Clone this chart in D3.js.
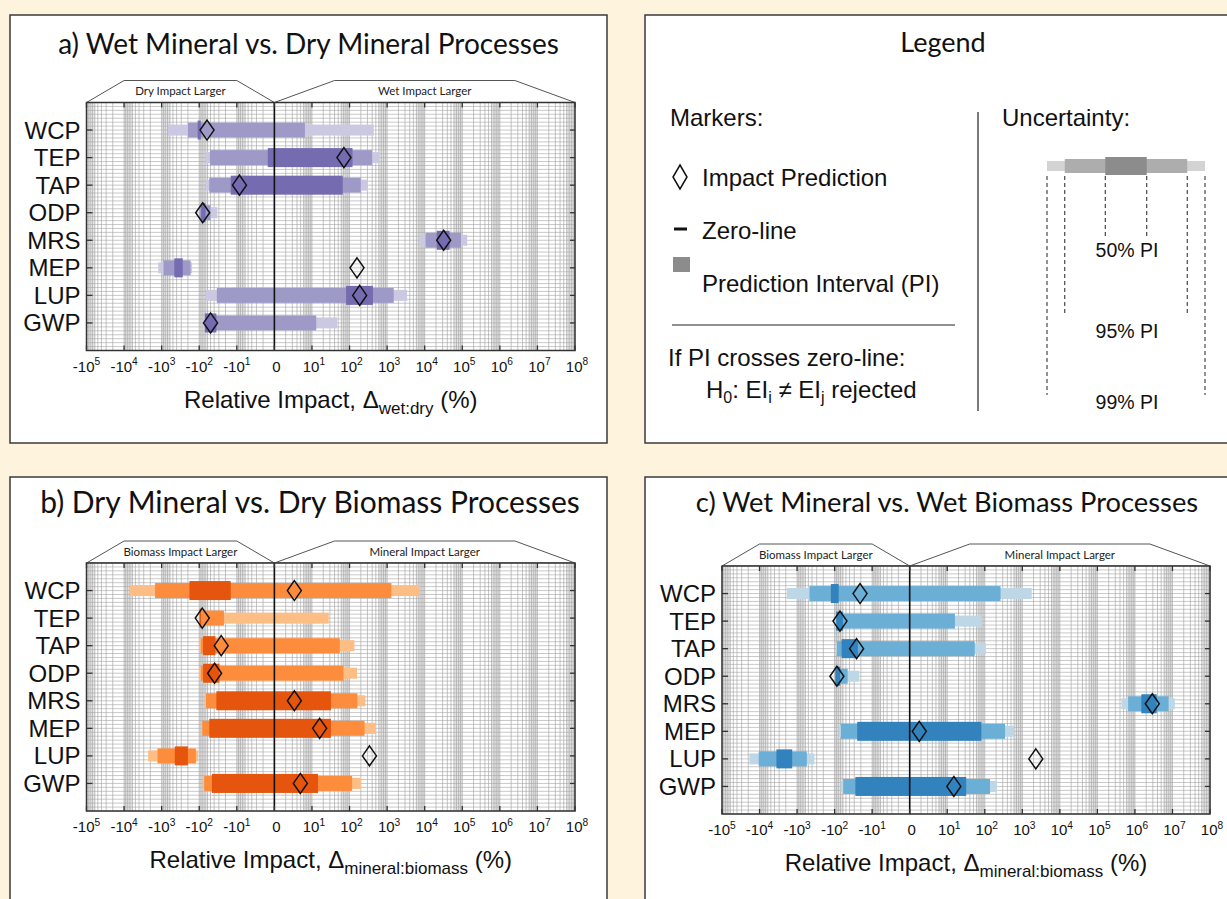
<!DOCTYPE html>
<html>
<head>
<meta charset="utf-8">
<script src="https://cdn.jsdelivr.net/npm/d3@7"></script>
<style>
  body { margin: 0; background: #fef4de; }
  svg { display: block; }
</style>
</head>
<body>
<svg id="fig" width="1227" height="899"></svg>
<script>
// ---- data (relative impact, %) ----
const categories = ["WCP", "TEP", "TAP", "ODP", "MRS", "MEP", "LUP", "GWP"];
const decadeTicks = [-1e5, -1e4, -1e3, -1e2, -1e1, 0, 1e1, 1e2, 1e3, 1e4, 1e5, 1e6, 1e7, 1e8];

// a) wet mineral vs. dry mineral
const wetDryPred = [-62, 71, -8.5, -81, 32000, 158, 186, -50];
const wetDryPI50 = [[-110, -91], [-1.5, 120], [-14.5, 66], [-89, -68], [21000, 46000], [-460, -275], [81, 420], [-71, -35]];
const wetDryPI95 = [[-200, 6.5], [-52, 400], [-54, 200], [-98, -50], [10500, 93000], [-890, -170], [-34, 1500], [-69, 13]];
const wetDryPI99 = [[-680, 440], [-66, 630], [-66, 310], [-98, -33], [7200, 135000], [-1230, -155], [-66, 3400], [-81, 47]];

// b) dry mineral vs. dry biomass
const dryPred = [3.4, -83, -26, -39, 3.4, 16, 339, 4.9];
const dryPI50 = [[-182, -14.5], [-98, -90], [-79, -37], [-79, -29], [-35, 32], [-54, 32], [-447, -200], [-46, 14.5]];
const dryPI95 = [[-1500, 1300], [-98, -22], [-91, 55], [-91, 69], [-66, 162], [-83, 251], [-1290, -123], [-74, 117]];
const dryPI99 = [[-7100, 7400], [-98, 28], [-98, 135], [-98, 158], [-72, 263], [-87, 490], [-2290, -107], [-81, 200]];

// c) wet mineral vs. wet biomass
const wetPred = [-21, -72, -26, -87, 2.9e6, 1.8, 2290, 15];
const wetPI50 = [[-126, -78], [-91, -60], [-65, -24], [-95, -71], [1.48e6, 3.8e6], [-25, 81], [-3550, -1350], [-28, 32]];
const wetPI95 = [[-468, 263], [-87, 16], [-87, 54], [-98, -45], [6.6e5, 7.9e6], [-68, 347], [-10500, -550], [-59, 138]];
const wetPI99 = [[-1860, 1780], [-91, 83], [-91, 107], [-98, -22], [4.37e5, 1.15e7], [-78, 603], [-18600, -347], [-69, 209]];

// legend
const legendPI = ["50% PI", "95% PI", "99% PI"];

// ---- drawing ----
const SANS = "'Liberation Sans', Arial, sans-serif";
const TITLE = "Lato, 'Open Sans', sans-serif";
const svg = d3.select("#fig");

// signed log10 exponent; |v| <= 1 collapses onto the zero line
function expo(v) {
  if (v === 0) return 0;
  return Math.sign(v) * Math.max(0, Math.log10(Math.abs(v)));
}

function addPowerLabel(sel, v, size) {
  if (v === 0) { sel.text("0"); return; }
  const e = Math.round(Math.log10(Math.abs(v)));
  sel.append("tspan").text((v < 0 ? "-" : "") + "10");
  sel.append("tspan").attr("dy", -size * 0.42).attr("font-size", size * 0.68).text(e);
}

function drawPanel(cfg) {
  const g = svg.append("g");
  const f = cfg.frame, p = cfg.plot;

  g.append("rect").attr("x", f.x).attr("y", f.y).attr("width", f.w).attr("height", f.h)
    .attr("fill", "#fff").attr("stroke", "#3a3a3a").attr("stroke-width", 1.5);

  g.append("text").attr("x", cfg.titleX).attr("y", cfg.titleY).attr("text-anchor", "middle")
    .attr("font-family", TITLE).attr("font-size", cfg.titleSize).attr("fill", "#111").text(cfg.title);

  const x = d3.scaleLinear().domain([-5, 8]).range([p.left, p.right]);
  const X = v => x(expo(v));
  const y = d3.scalePoint().domain(categories).range([p.top, p.bottom]).padding(1);

  // header trapezoids
  const hTop = p.top - 22;
  const heads = [
    { pts: [-5, -4, -1, 0], label: cfg.leftHeader, mid: -2.5 },
    { pts: [0, 1.6, 6.4, 8], label: cfg.rightHeader, mid: 4 }
  ];
  heads.forEach(h => {
    const d = `M${x(h.pts[0])},${p.top}L${x(h.pts[1])},${hTop}L${x(h.pts[2])},${hTop}L${x(h.pts[3])},${p.top}Z`;
    g.append("path").attr("d", d).attr("fill", "#fff").attr("stroke", "#555").attr("stroke-width", 1);
    g.append("text").attr("x", x(h.mid)).attr("y", hTop + 14.5).attr("text-anchor", "middle")
      .attr("font-family", TITLE).attr("font-size", 11.5).attr("fill", "#222").text(h.label);
  });

  // plot background
  g.append("rect").attr("x", p.left).attr("y", p.top).attr("width", p.right - p.left)
    .attr("height", p.bottom - p.top).attr("fill", "#fff");

  // shaded bands where the minor grid gets dense
  const bands = [];
  for (let k = 1; k <= 8; k++) bands.push([0.6 * Math.pow(10, k), Math.pow(10, k)]);
  for (let k = 1; k <= 5; k++) bands.push([-Math.pow(10, k), -0.6 * Math.pow(10, k)]);
  g.append("g").selectAll("rect").data(bands).join("rect")
    .attr("x", d => X(d[0])).attr("width", d => X(d[1]) - X(d[0]))
    .attr("y", p.top).attr("height", p.bottom - p.top).attr("fill", "#e6e6e6");

  // vertical grid: 1..9 x 10^j on both sides
  const gridV = [];
  for (let j = 0; j < 8; j++) for (let m = 1; m <= 9; m++) gridV.push(m * Math.pow(10, j));
  for (let j = 0; j < 5; j++) for (let m = 1; m <= 9; m++) gridV.push(-m * Math.pow(10, j));
  gridV.push(1e8, -1e5);
  g.append("g").selectAll("line").data(gridV).join("line")
    .attr("x1", d => X(d)).attr("x2", d => X(d)).attr("y1", p.top).attr("y2", p.bottom)
    .attr("stroke", "#9c9c9c").attr("stroke-width", 0.6);

  // horizontal grid
  const yl = d3.scaleLinear().domain([0, categories.length + 1]).range([p.top, p.bottom]);
  const gridH = d3.range(0, (categories.length + 1) * 7 + 1).map(i => i / 7);
  g.append("g").selectAll("line").data(gridH).join("line")
    .attr("x1", p.left).attr("x2", p.right).attr("y1", d => yl(d)).attr("y2", d => yl(d))
    .attr("stroke", "#a4a4a4").attr("stroke-width", 0.6);

  // prediction interval bars
  const layers = [
    { data: cfg.pi99, h: 11, color: cfg.colors[0] },
    { data: cfg.pi95, h: 15, color: cfg.colors[1] },
    { data: cfg.pi50, h: 19, color: cfg.colors[2] }
  ];
  layers.forEach(L => {
    g.append("g").selectAll("rect").data(L.data).join("rect")
      .attr("x", d => X(d[0])).attr("width", d => Math.max(1, X(d[1]) - X(d[0])))
      .attr("y", (d, i) => y(categories[i]) - L.h / 2).attr("height", L.h)
      .attr("fill", L.color);
  });

  // zero line
  g.append("line").attr("x1", x(0)).attr("x2", x(0)).attr("y1", p.top).attr("y2", p.bottom)
    .attr("stroke", "#111").attr("stroke-width", 1.6);

  // predictions
  g.append("g").selectAll("path").data(cfg.pred).join("path")
    .attr("d", (d, i) => {
      const cx = X(d), cy = y(categories[i]);
      return `M${cx},${cy - 10}L${cx + 7},${cy}L${cx},${cy + 10}L${cx - 7},${cy}Z`;
    })
    .attr("fill", "none").attr("stroke", "#111").attr("stroke-width", 1.5);

  // frame + ticks
  g.append("rect").attr("x", p.left).attr("y", p.top).attr("width", p.right - p.left)
    .attr("height", p.bottom - p.top).attr("fill", "none").attr("stroke", "#333").attr("stroke-width", 1.5);
  const tk = g.append("g").attr("stroke", "#333").attr("stroke-width", 1.3);
  decadeTicks.forEach(v => {
    tk.append("line").attr("x1", X(v)).attr("x2", X(v)).attr("y1", p.top).attr("y2", p.top + 5);
    tk.append("line").attr("x1", X(v)).attr("x2", X(v)).attr("y1", p.bottom).attr("y2", p.bottom - 5);
  });
  categories.forEach(c => {
    tk.append("line").attr("x1", p.left).attr("x2", p.left + 6).attr("y1", y(c)).attr("y2", y(c));
    tk.append("line").attr("x1", p.right).attr("x2", p.right - 5).attr("y1", y(c)).attr("y2", y(c));
  });

  // category labels
  g.append("g").selectAll("text").data(categories).join("text")
    .attr("x", p.left - 6).attr("y", d => y(d) + 8.5).attr("text-anchor", "end")
    .attr("font-family", SANS).attr("font-size", 24).attr("fill", "#111").text(d => d);

  // x tick labels
  g.append("g").selectAll("text").data(decadeTicks).join("text")
    .attr("x", d => X(d) + (d < 0 ? 0 : 2)).attr("y", p.bottom + 21).attr("text-anchor", "middle")
    .attr("font-family", SANS).attr("font-size", 15).attr("fill", "#111")
    .each(function (d) { addPowerLabel(d3.select(this), d, 15); });

  // axis title
  const t = g.append("text").attr("x", (p.left + p.right) / 2).attr("y", p.bottom + 57)
    .attr("text-anchor", "middle").attr("font-family", SANS).attr("font-size", 24).attr("fill", "#111");
  t.append("tspan").text("Relative Impact, \u0394");
  t.append("tspan").attr("dy", 6).attr("font-size", 17).text(cfg.sub);
  t.append("tspan").attr("dy", -6).text(" (%)");
}

drawPanel({
  frame: { x: 10, y: 15, w: 597, h: 428 },
  plot: { left: 86.5, right: 575, top: 102.5, bottom: 350.5 },
  title: "a) Wet Mineral vs. Dry Mineral Processes", titleX: 308.5, titleY: 54, titleSize: 28,
  leftHeader: "Dry Impact Larger", rightHeader: "Wet Impact Larger", sub: "wet:dry",
  pred: wetDryPred, pi50: wetDryPI50, pi95: wetDryPI95, pi99: wetDryPI99,
  colors: ["#cbc9e2", "#9e9ac8", "#756bb1"]
});
drawPanel({
  frame: { x: 10, y: 477, w: 597, h: 440 },
  plot: { left: 86.5, right: 575, top: 563, bottom: 811 },
  title: "b) Dry Mineral vs. Dry Biomass Processes", titleX: 310, titleY: 513, titleSize: 30,
  leftHeader: "Biomass Impact Larger", rightHeader: "Mineral Impact Larger", sub: "mineral:biomass",
  pred: dryPred, pi50: dryPI50, pi95: dryPI95, pi99: dryPI99,
  colors: ["#fdbe85", "#fd8d3c", "#e6550d"]
});
drawPanel({
  frame: { x: 645, y: 477, w: 620, h: 440 },
  plot: { left: 722, right: 1210, top: 566, bottom: 814 },
  title: "c) Wet Mineral vs. Wet Biomass Processes", titleX: 947, titleY: 512, titleSize: 27.3,
  leftHeader: "Biomass Impact Larger", rightHeader: "Mineral Impact Larger", sub: "mineral:biomass",
  pred: wetPred, pi50: wetPI50, pi95: wetPI95, pi99: wetPI99,
  colors: ["#bdd7e7", "#6baed6", "#3182bd"]
});

// ---- legend ----
const lg = svg.append("g");
lg.append("rect").attr("x", 645).attr("y", 15).attr("width", 620).attr("height", 428)
  .attr("fill", "#fff").attr("stroke", "#3a3a3a").attr("stroke-width", 1.5);
lg.append("text").attr("x", 943).attr("y", 52).attr("text-anchor", "middle")
  .attr("font-family", TITLE).attr("font-size", 27).attr("fill", "#111").text("Legend");

const lt = (x, y, s, size) => lg.append("text").attr("x", x).attr("y", y)
  .attr("font-family", SANS).attr("font-size", size || 24).attr("fill", "#111").text(s);
lt(670, 126, "Markers:");
lg.append("path").attr("d", "M680,165L687,177L680,189L673,177Z").attr("fill", "none")
  .attr("stroke", "#111").attr("stroke-width", 1.5);
lt(702, 186, "Impact Prediction");
lg.append("line").attr("x1", 674).attr("x2", 687).attr("y1", 229).attr("y2", 229)
  .attr("stroke", "#111").attr("stroke-width", 3);
lt(702, 239, "Zero-line");
lg.append("rect").attr("x", 673).attr("y", 257).attr("width", 17).attr("height", 15).attr("fill", "#8c8c8c");
lt(702, 292, "Prediction Interval (PI)");
lg.append("line").attr("x1", 672).attr("x2", 955).attr("y1", 325).attr("y2", 325)
  .attr("stroke", "#222").attr("stroke-width", 1.2);
lt(668, 366, "If PI crosses zero-line:");
const h0 = lt(706, 398, "");
h0.append("tspan").text("H");
h0.append("tspan").attr("dy", 5).attr("font-size", 16).text("0");
h0.append("tspan").attr("dy", -5).text(": EI");
h0.append("tspan").attr("dy", 5).attr("font-size", 16).text("i");
h0.append("tspan").attr("dy", -5).text(" \u2260 EI");
h0.append("tspan").attr("dy", 5).attr("font-size", 16).text("j");
h0.append("tspan").attr("dy", -5).text(" rejected");

lg.append("line").attr("x1", 978).attr("x2", 978).attr("y1", 112).attr("y2", 411)
  .attr("stroke", "#222").attr("stroke-width", 1.2);
lt(1002, 126, "Uncertainty:");

// uncertainty key, built on the same kind of linear scale
const ux = d3.scaleLinear().domain([-4, 4]).range([1047, 1205]);
const uKey = [
  { half: 4, h: 10, c: "#d3d3d3", bottom: 395 },
  { half: 3.1, h: 14, c: "#adadad", bottom: 315 },
  { half: 1.05, h: 18, c: "#8c8c8c", bottom: 238 }
];
uKey.forEach(k => {
  lg.append("rect").attr("x", ux(-k.half)).attr("width", ux(k.half) - ux(-k.half))
    .attr("y", 166 - k.h / 2).attr("height", k.h).attr("fill", k.c);
});
uKey.forEach(k => {
  [-k.half, k.half].forEach(v => {
    lg.append("line").attr("x1", ux(v)).attr("x2", ux(v)).attr("y1", 176).attr("y2", k.bottom)
      .attr("stroke", "#222").attr("stroke-width", 1).attr("stroke-dasharray", "4,3");
  });
});
[[legendPI[0], 257], [legendPI[1], 338], [legendPI[2], 409]].forEach(([s, yy]) => {
  lg.append("text").attr("x", ux(0) + 1).attr("y", yy).attr("text-anchor", "middle")
    .attr("font-family", SANS).attr("font-size", 19.5).attr("fill", "#111").text(s);
});
</script>
</body>
</html>
